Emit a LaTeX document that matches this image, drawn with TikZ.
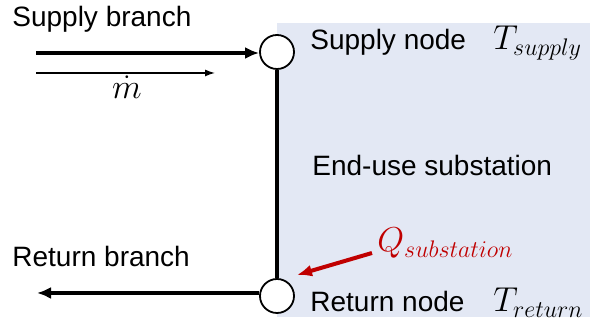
\documentclass[tikz,border=0pt]{standalone}
\usepackage{amsmath}
\usepackage{fontspec}
\setmainfont{Liberation Sans}
\usepackage{tikz}
\usetikzlibrary{arrows.meta}
\definecolor{subfill}{RGB}{227,232,244}
\definecolor{heatred}{RGB}{192,0,0}

\begin{document}
\begin{tikzpicture}[x=0.5pt,y=0.5pt,
    lbl/.style={anchor=base west,inner sep=0pt,font=\fontsize{14}{16}\selectfont},
    mlbl/.style={anchor=base west,inner sep=0pt,font=\fontsize{17.5}{20}\selectfont},
    pipe/.style={line width=2pt,-{Latex[length=7pt,width=6pt]}},
    junction/.style={circle,draw,line width=0.9pt,fill=white,minimum size=17pt,inner sep=0pt}]
    \clip (0,0) rectangle (590,324);
    \fill[subfill] (277,7) rectangle (590,301);

    \node[junction] (sup) at (277,272) {};
    \node[junction] (ret) at (277,28) {};
    \draw[line width=1.8pt] (sup) -- (ret);

    \coordinate (supin) at (36,271);
    \coordinate (retout) at (37,31);
    \draw[pipe] (supin) -- (supin -| sup.west);
    \draw[pipe] (ret.west |- retout) -- (retout);

    \coordinate (flowa) at (36,251);
    \coordinate (flowb) at (215,251);
    \draw[line width=0.65pt,-{Latex[length=5pt,width=3.5pt]}] (flowa) -- (flowb);
    \node[anchor=base,inner sep=0pt,font=\fontsize{17}{20}\selectfont] (mdot) at (127,225) {$\dot{m}$};

    \node[lbl] (supbranch) at (12,297) {Supply branch};
    \node[lbl] (retbranch) at (12,57) {Return branch};
    \node[lbl] (supnode) at (310,274) {Supply node};
    \node[mlbl] (tsup) at (493,274) {$T_{supply}$};
    \node[lbl] (enduse) at (312,148) {End-use substation};
    \node[lbl] (retnode) at (310,12) {Return node};
    \node[mlbl] (tret) at (493,12) {$T_{return}$};
    \node[mlbl,text=heatred] (qsub) at (377,72) {$Q_{substation}$};

    \coordinate (qtail) at (372,71);
    \coordinate (qtip) at (297,49);
    \draw[heatred,line width=2pt,-{Latex[length=7.5pt,width=6pt]}] (qtail) -- (qtip);
\end{tikzpicture}
\end{document}
